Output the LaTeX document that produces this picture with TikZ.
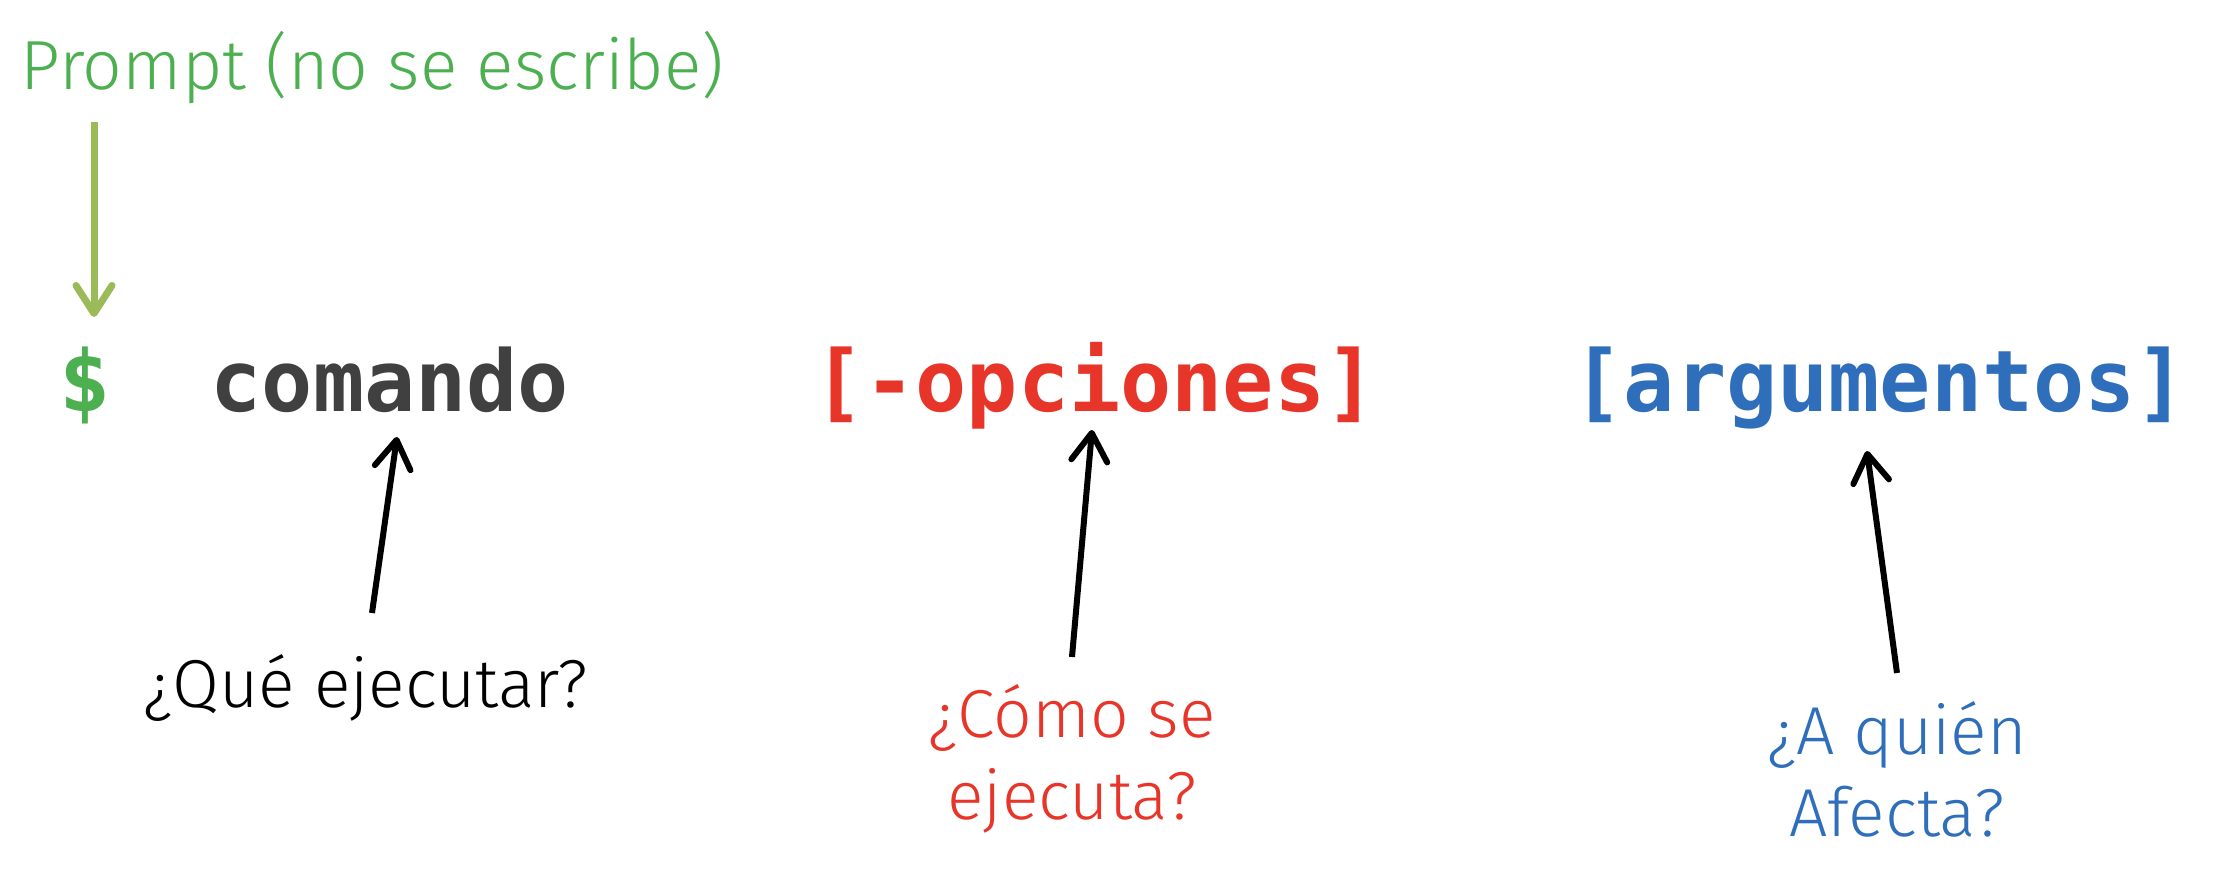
\documentclass[tikz,border=0pt]{standalone}
\usepackage{fontspec}
\setmainfont{Fira Sans Light}
\newfontfamily\cmdfont{DejaVu Sans Mono}
\usetikzlibrary{arrows.meta, calc}
\definecolor{promptGreen}{HTML}{4CAF50}
\definecolor{arrowGreen}{HTML}{9BBB59}
\definecolor{cmdGray}{HTML}{404040}
\definecolor{optRed}{HTML}{E8352A}
\definecolor{argBlue}{HTML}{2F6EBA}

\begin{document}
\begin{tikzpicture}[
    cmdtext/.style={inner sep=0pt, anchor=base, font=\cmdfont\bfseries\fontsize{24.2pt}{29pt}\selectfont},
    ask/.style={inner sep=0pt, anchor=base, align=center, font=\fontsize{19.3pt}{23.6pt}\selectfont},
    pointer/.style={-{Straight Barb[length=0.28cm, width=0.36cm, round]}, line width=0.06cm}]
    \useasboundingbox (0,0) rectangle (22.24,8.84);
    \node[inner sep=0pt, anchor=base west, text=promptGreen, font=\fontsize{19.8pt}{24pt}\selectfont]
          (prompt) at (0.20,7.94) {Prompt (no se escribe)};
    \node[cmdtext, text=promptGreen] (dollar) at (0.85,4.72) {\$};
    \node[cmdtext, text=cmdGray] (cmd) at (3.90,4.72) {comando};
    \node[cmdtext, text=optRed] (opc) at (10.95,4.72) {[-opciones]};
    \node[cmdtext, text=argBlue] (arg) at (18.80,4.72) {[argumentos]};
    \node[ask] (qexec) at (3.66,1.76) {¿Qué ejecutar?};
    \node[ask, text=optRed] (qhow) at (10.72,0.64) {¿Cómo se\\ejecuta?};
    \node[ask, text=argBlue] (qwho) at (18.97,0.47) {¿A quién\\Afecta?};
    \draw[pointer, arrowGreen, line width=0.07cm] ($(prompt.base west)+(0.74,-0.32)$) -- ($(dollar.base)+(0.09,0.95)$);
    \draw[pointer] ($(qexec.base)+(0.06,0.95)$) -- ($(cmd.base)+(0.07,-0.25)$);
    \draw[pointer] ($(qhow.base)+(0,1.63)$) -- ($(opc.base)+(-0.03,-0.18)$);
    \draw[pointer] ($(qwho.base)+(0,1.64)$) -- ($(arg.base)+(-0.13,-0.39)$);
\end{tikzpicture}
\end{document}
